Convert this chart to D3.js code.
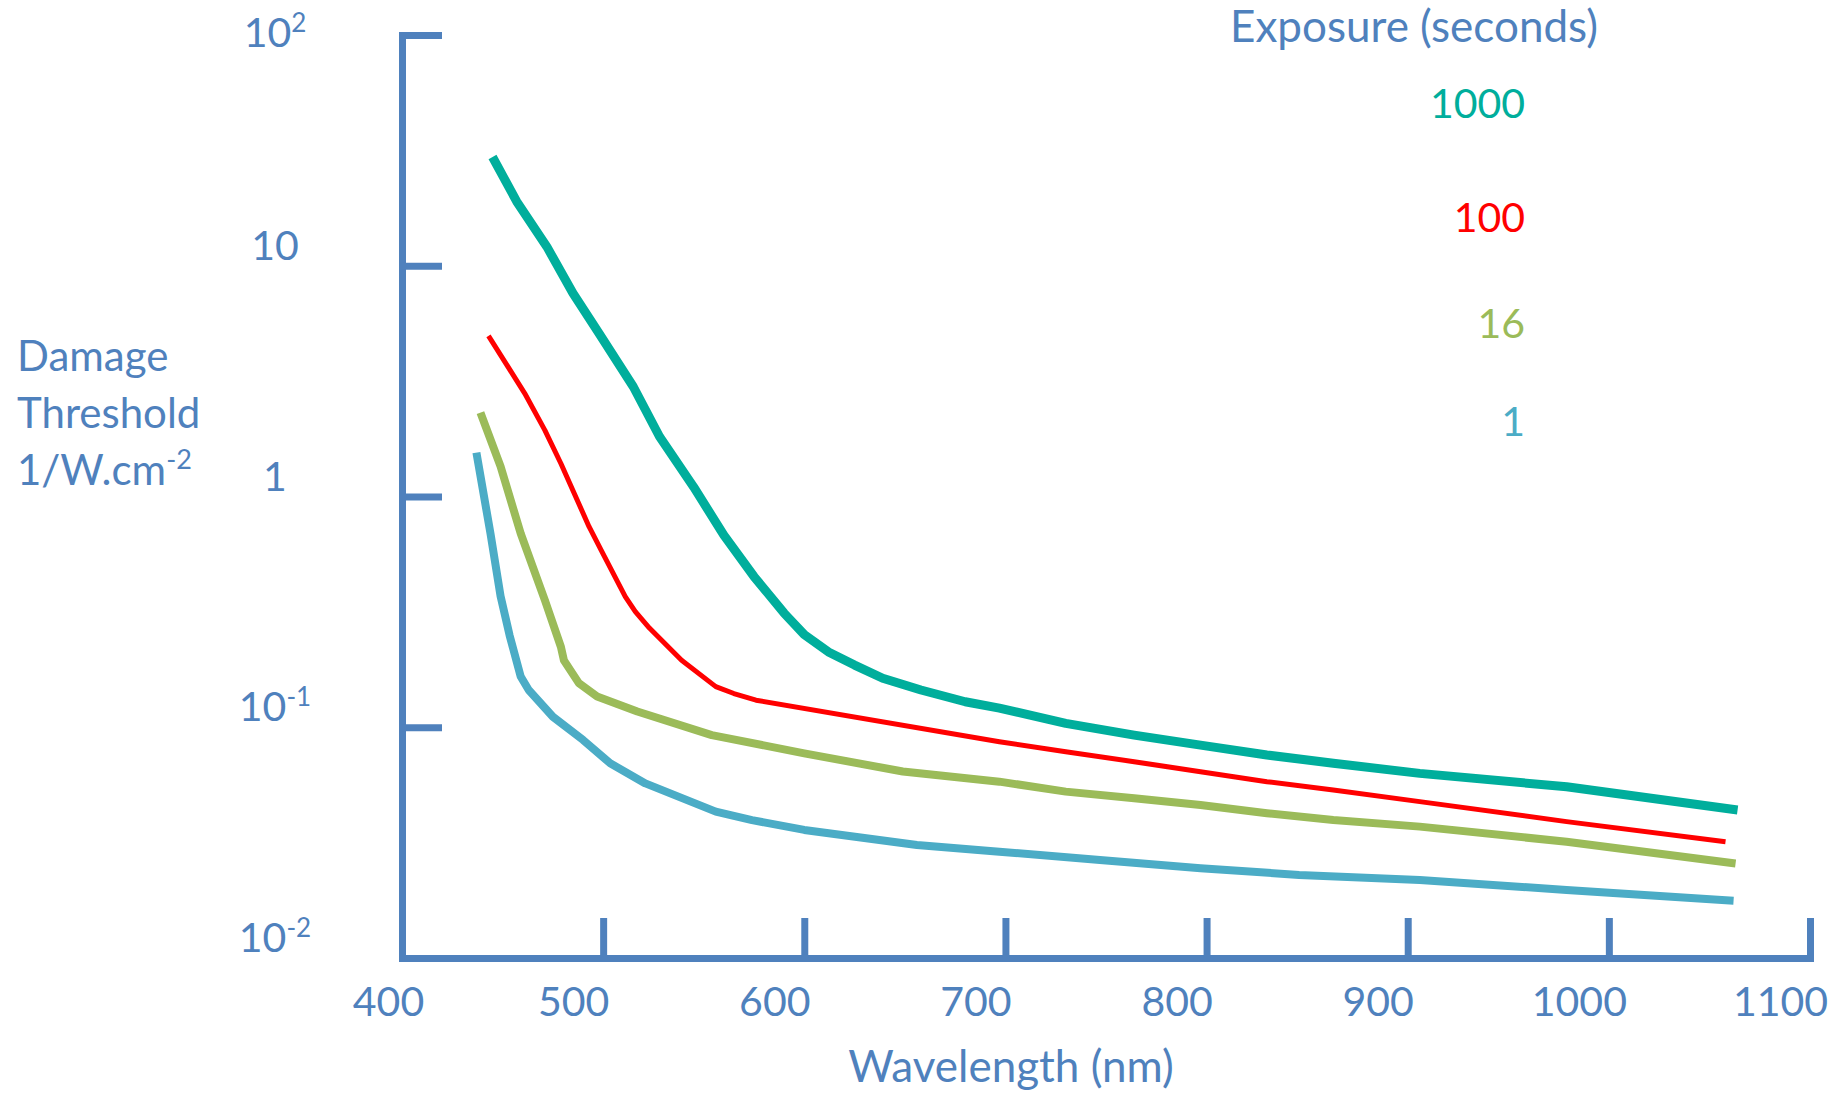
<!DOCTYPE html>
<html>
<head>
<meta charset="utf-8">
<script src="https://cdn.jsdelivr.net/npm/d3@7"></script>
<style>
  html, body { margin: 0; padding: 0; background: #ffffff; }
  svg { display: block; font-family: Lato, "Open Sans", sans-serif; }
</style>
</head>
<body>
<svg id="chart" width="1832" height="1095"></svg>
<script>
// Exposure durations (seconds), one curve each
const exposures = ["1000", "100", "16", "1"];

// Wavelength (nm) and damage threshold (1/W.cm^-2) for each exposure
const wl1000 = [445, 457, 472, 485, 498, 515, 528, 545, 560, 575, 590, 600, 612, 625, 639, 658, 680, 697, 730, 764, 797, 830, 863, 906, 979, 1064];
const thr1000 = [29.6, 19.0, 12.1, 7.6, 5.09, 2.99, 1.82, 1.10, 0.68, 0.45, 0.312, 0.252, 0.212, 0.186, 0.163, 0.145, 0.129, 0.121, 0.104, 0.0925, 0.0837, 0.0758, 0.0698, 0.0631, 0.0552, 0.0438];

const wl100 = [443, 461, 471, 479, 493, 499, 511, 516, 523, 539, 556, 565, 576, 697, 730, 764, 797, 830, 863, 906, 979, 1058];
const thr100 = [4.97, 2.80, 1.94, 1.39, 0.740, 0.586, 0.368, 0.317, 0.269, 0.195, 0.150, 0.140, 0.131, 0.0866, 0.0783, 0.0709, 0.0642, 0.0581, 0.0535, 0.0476, 0.0390, 0.0319];

const wl16 = [439, 449, 459, 471, 479, 480.5, 488, 497, 517, 554, 600, 649, 697, 730, 764, 797, 830, 863, 906, 979, 1063];
const thr16 = [2.31, 1.35, 0.692, 0.356, 0.223, 0.195, 0.155, 0.136, 0.117, 0.0925, 0.0771, 0.0643, 0.0581, 0.0526, 0.0492, 0.0460, 0.0424, 0.0396, 0.0371, 0.0319, 0.0257];

const wl1 = [437, 444, 449, 453.5, 459, 463, 475, 490, 503.5, 521, 556, 574, 600, 656, 697, 747, 797, 846, 906, 979, 1062];
const thr1 = [1.55, 0.69, 0.37, 0.25, 0.166, 0.145, 0.111, 0.0881, 0.0698, 0.0571, 0.0431, 0.0396, 0.0359, 0.0309, 0.0289, 0.0266, 0.0245, 0.0229, 0.0218, 0.0197, 0.0177];

// Axis ticks and their labels (base, superscript)
const xTicks = [400, 500, 600, 700, 800, 900, 1000, 1100];
const yTicks = [0.01, 0.1, 1, 10, 100];
const yTickLabels = [["10", "-2"], ["10", "-1"], ["1", ""], ["10", ""], ["10", "2"]];

// Styling
const axisColor = "#4F81BD";
const seriesColors = ["#00AE9C", "#FF0000", "#9BBB59", "#4BACC6"];
const seriesWidths = [9, 5, 8, 8];

const series = [
  { label: exposures[0], wl: wl1000, thr: thr1000 },
  { label: exposures[1], wl: wl100, thr: thr100 },
  { label: exposures[2], wl: wl16, thr: thr16 },
  { label: exposures[3], wl: wl1, thr: thr1 }
];

const svg = d3.select("#chart");

const plot = { left: 402, right: 1810, top: 35, bottom: 958 };

const x = d3.scaleLinear().domain([400, 1100]).range([plot.left, plot.right]);
const y = d3.scaleLog().domain([0.01, 100]).range([plot.bottom, plot.top]);

// Curves
const line = d3.line()
  .x(d => x(d[0]))
  .y(d => y(d[1]))
  .curve(d3.curveLinear);

svg.append("g")
  .selectAll("path")
  .data(series)
  .join("path")
  .attr("d", s => line(s.wl.map((w, i) => [w, s.thr[i]])))
  .attr("fill", "none")
  .attr("stroke", (s, i) => seriesColors[i])
  .attr("stroke-width", (s, i) => seriesWidths[i])
  .attr("stroke-linejoin", "round")
  .attr("stroke-linecap", "butt");

// Y axis: line with ticks pointing into the plot
const yAxis = svg.append("g")
  .attr("transform", `translate(${plot.left},0)`)
  .call(d3.axisRight(y).tickValues(yTicks).tickSizeInner(40).tickSizeOuter(0).tickFormat(""));

// X axis: line with ticks pointing up
const xAxis = svg.append("g")
  .attr("transform", `translate(0,${plot.bottom})`)
  .call(d3.axisBottom(x).tickValues(xTicks).tickFormat(d3.format("d"))
    .tickSizeInner(-40).tickSizeOuter(0).tickPadding(0));

[yAxis, xAxis].forEach(g => {
  g.select(".domain")
    .attr("stroke", axisColor)
    .attr("stroke-width", 7)
    .attr("stroke-linecap", "square");
  g.selectAll(".tick line")
    .attr("stroke", axisColor)
    .attr("stroke-width", 7);
});

xAxis.selectAll(".tick text")
  .attr("fill", axisColor)
  .attr("font-size", 41)
  .attr("font-family", "Lato, 'Open Sans', sans-serif")
  .attr("y", 58)
  .attr("dy", 0)
  .attr("dx", d => d === 400 ? -14 : -30);

// Y tick labels with superscripted exponents (kept clear of the top edge)
const yLab = svg.append("g")
  .selectAll("text")
  .data(yTicks)
  .join("text")
  .attr("x", plot.left - 127)
  .attr("y", d => Math.max(y(d) - 6, 47))
  .attr("text-anchor", "middle")
  .attr("fill", axisColor)
  .attr("font-size", 41);

yLab.append("tspan").text((d, i) => yTickLabels[i][0]);
yLab.append("tspan")
  .attr("font-size", 26)
  .attr("dy", -15)
  .text((d, i) => yTickLabels[i][1]);

// Y axis title
const yTitle = svg.append("text")
  .attr("fill", axisColor)
  .attr("font-size", 42);
yTitle.append("tspan").attr("x", 17).attr("y", 371).text("Damage");
yTitle.append("tspan").attr("x", 17).attr("y", 428).text("Threshold");
yTitle.append("tspan").attr("x", 17).attr("y", 485).text("1/W.cm");
yTitle.append("tspan").attr("font-size", 27).attr("dy", -16).text("-2");

// X axis title
svg.append("text")
  .attr("x", 1011)
  .attr("y", 1082)
  .attr("text-anchor", "middle")
  .attr("fill", axisColor)
  .attr("font-size", 44)
  .text("Wavelength (nm)");

// Legend
svg.append("text")
  .attr("x", 1230)
  .attr("y", 42)
  .attr("fill", axisColor)
  .attr("font-size", 44)
  .text("Exposure (seconds)");

const legendY = d3.scalePoint().domain(exposures).range([118, 436]);
svg.append("g")
  .selectAll("text")
  .data(series)
  .join("text")
  .attr("x", 1525)
  .attr("y", (s, i) => legendY(s.label) + (i === 1 ? 8 : i === 2 ? 8 : 0))
  .attr("text-anchor", "end")
  .attr("fill", (s, i) => seriesColors[i])
  .attr("font-size", 41)
  .text(s => s.label);
</script>
</body>
</html>
